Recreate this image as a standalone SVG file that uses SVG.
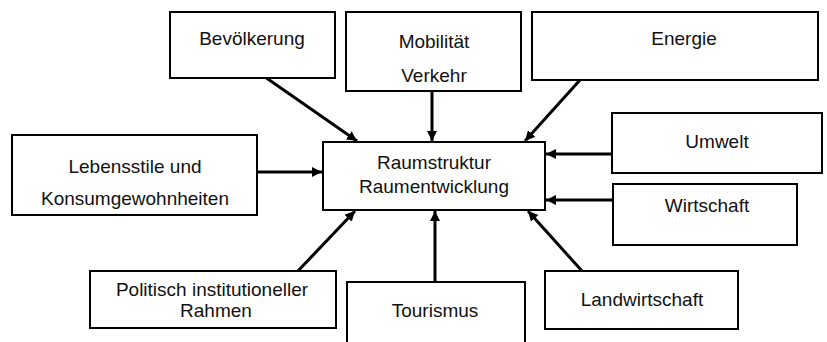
<svg xmlns="http://www.w3.org/2000/svg" width="827" height="342" viewBox="0 0 827 342">
<defs>
<marker id="ah" markerUnits="userSpaceOnUse" markerWidth="11" markerHeight="11" refX="10" refY="5" orient="auto">
<path d="M0,0 L10,5 L0,10 z" fill="#000"/>
</marker>
<style>
.box{fill:#fff;stroke:#000;stroke-width:2}
.t{font-family:"Liberation Sans",Arial,sans-serif;font-size:19px;fill:#111;text-anchor:middle}
.c{stroke:#000;stroke-width:3;fill:none;marker-end:url(#ah)}
</style>
</defs>
<rect width="827" height="342" fill="#fff"/>
<g id="connectors">
<line class="c" x1="265" y1="77" x2="357" y2="141"/>
<line class="c" x1="432" y1="91" x2="432" y2="141"/>
<line class="c" x1="580" y1="80" x2="525" y2="141"/>
<line class="c" x1="257" y1="172" x2="322" y2="172"/>
<line class="c" x1="612" y1="154" x2="546" y2="154"/>
<line class="c" x1="613" y1="200" x2="546" y2="200"/>
<line class="c" x1="297" y1="272" x2="355" y2="211"/>
<line class="c" x1="435" y1="282" x2="435" y2="211"/>
<line class="c" x1="582" y1="271" x2="528" y2="211"/>
</g>
<g id="bevoelkerung"><rect class="box" x="170" y="12" width="165" height="66"/><text class="t" x="252" y="45">Bevölkerung</text></g>
<g id="mobilitaet"><rect class="box" x="346" y="12" width="175" height="79"/><text class="t" x="434" y="48">Mobilität</text><text class="t" x="434" y="82">Verkehr</text></g>
<g id="energie"><rect class="box" x="532" y="12" width="286" height="68"/><text class="t" x="684" y="45">Energie</text></g>
<g id="lebensstile"><rect class="box" x="12" y="135" width="245" height="80"/><text class="t" x="135" y="173">Lebensstile und</text><text class="t" x="135" y="205">Konsumgewohnheiten</text></g>
<g id="raumstruktur"><rect class="box" x="323" y="142" width="222" height="68"/><text class="t" x="434" y="169">Raumstruktur</text><text class="t" x="434" y="193">Raumentwicklung</text></g>
<g id="umwelt"><rect class="box" x="612" y="113" width="210" height="60"/><text class="t" x="717" y="148">Umwelt</text></g>
<g id="wirtschaft"><rect class="box" x="613" y="184" width="184" height="61"/><text class="t" x="707" y="212">Wirtschaft</text></g>
<g id="politisch"><rect class="box" x="90" y="271" width="246" height="57"/><text class="t" x="212" y="296">Politisch institutioneller</text><text class="t" x="216" y="317">Rahmen</text></g>
<g id="tourismus"><rect class="box" x="347" y="282" width="178" height="64"/><text class="t" x="435" y="317">Tourismus</text></g>
<g id="landwirtschaft"><rect class="box" x="545" y="271" width="193" height="58"/><text class="t" x="642" y="306">Landwirtschaft</text></g>
</svg>
